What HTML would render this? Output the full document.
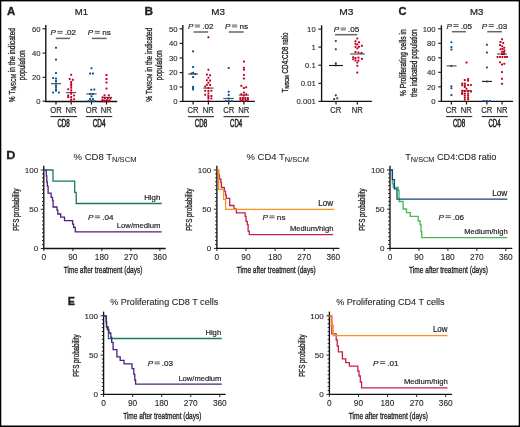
<!DOCTYPE html><html><head><meta charset="utf-8"><style>html,body{margin:0;padding:0;background:#fff;width:520px;height:427px;overflow:hidden}svg{display:block}text{font-family:"Liberation Sans",sans-serif}</style></head><body><svg width="520" height="427" viewBox="0 0 520 427" font-family="Liberation Sans, sans-serif">
<rect width="520" height="427" fill="#fff"/>
<g opacity="0.999">
<rect x="0" y="0" width="520" height="1.4" fill="#000"/>
<rect x="0" y="0" width="1.3" height="427" fill="#000"/>
<rect x="518.7" y="0" width="1.3" height="427" fill="#000"/>
<rect x="0" y="425.5" width="520" height="1.5" fill="#000"/>
<line x1="45.8" y1="24.9" x2="45.8" y2="102.1" stroke="#111" stroke-width="1.35"/>
<line x1="45.199999999999996" y1="101.5" x2="117.2" y2="101.5" stroke="#111" stroke-width="1.35"/>
<line x1="42.599999999999994" y1="28.8" x2="45.8" y2="28.8" stroke="#111" stroke-width="1.1"/>
<line x1="42.599999999999994" y1="53.1" x2="45.8" y2="53.1" stroke="#111" stroke-width="1.1"/>
<line x1="42.599999999999994" y1="77.3" x2="45.8" y2="77.3" stroke="#111" stroke-width="1.1"/>
<line x1="42.599999999999994" y1="101.2" x2="45.8" y2="101.2" stroke="#111" stroke-width="1.1"/>
<line x1="56" y1="101.5" x2="56" y2="104.5" stroke="#111" stroke-width="1.2"/>
<line x1="71.2" y1="101.5" x2="71.2" y2="104.5" stroke="#111" stroke-width="1.2"/>
<line x1="91.5" y1="101.5" x2="91.5" y2="104.5" stroke="#111" stroke-width="1.2"/>
<line x1="106.5" y1="101.5" x2="106.5" y2="104.5" stroke="#111" stroke-width="1.2"/>
<rect x="57.40" y="30.90" width="5.3" height="0.95" fill="#555"/>
<rect x="57.40" y="32.70" width="5.3" height="0.95" fill="#555"/>
<line x1="55.8" y1="38.4" x2="70.0" y2="38.4" stroke="#666" stroke-width="1.5"/>
<rect x="94.70" y="30.90" width="5.3" height="0.95" fill="#555"/>
<rect x="94.70" y="32.70" width="5.3" height="0.95" fill="#555"/>
<line x1="92.0" y1="38.4" x2="106.6" y2="38.4" stroke="#666" stroke-width="1.5"/>
<line x1="50.9" y1="83.7" x2="61.1" y2="83.7" stroke="#555555" stroke-width="1.2"/>
<line x1="66.1" y1="92.6" x2="76.2" y2="92.6" stroke="#555555" stroke-width="1.2"/>
<rect x="55.00" y="46.70" width="2.00" height="2.00" rx="0.60" fill="#0b4f8f"/>
<rect x="55.00" y="58.50" width="2.00" height="2.00" rx="0.60" fill="#0b4f8f"/>
<rect x="55.00" y="71.90" width="2.00" height="2.00" rx="0.60" fill="#0b4f8f"/>
<rect x="52.10" y="76.90" width="2.00" height="2.00" rx="0.60" fill="#0b4f8f"/>
<rect x="55.00" y="77.50" width="2.00" height="2.00" rx="0.60" fill="#0b4f8f"/>
<rect x="55.00" y="80.10" width="2.00" height="2.00" rx="0.60" fill="#0b4f8f"/>
<rect x="55.00" y="82.60" width="2.00" height="2.00" rx="0.60" fill="#0b4f8f"/>
<rect x="55.00" y="84.70" width="2.00" height="2.00" rx="0.60" fill="#0b4f8f"/>
<rect x="55.00" y="86.50" width="2.00" height="2.00" rx="0.60" fill="#0b4f8f"/>
<rect x="55.00" y="88.50" width="2.00" height="2.00" rx="0.60" fill="#0b4f8f"/>
<rect x="55.00" y="89.70" width="2.00" height="2.00" rx="0.60" fill="#0b4f8f"/>
<rect x="52.10" y="91.40" width="2.00" height="2.00" rx="0.60" fill="#0b4f8f"/>
<rect x="57.90" y="91.40" width="2.00" height="2.00" rx="0.60" fill="#0b4f8f"/>
<rect x="70.20" y="73.70" width="2.00" height="2.00" rx="0.60" fill="#bf0020"/>
<rect x="68.70" y="77.90" width="2.00" height="2.00" rx="0.60" fill="#bf0020"/>
<rect x="71.80" y="78.80" width="2.00" height="2.00" rx="0.60" fill="#bf0020"/>
<rect x="70.20" y="80.90" width="2.00" height="2.00" rx="0.60" fill="#bf0020"/>
<rect x="70.20" y="83.00" width="2.00" height="2.00" rx="0.60" fill="#bf0020"/>
<rect x="70.20" y="84.70" width="2.00" height="2.00" rx="0.60" fill="#bf0020"/>
<rect x="70.20" y="86.80" width="2.00" height="2.00" rx="0.60" fill="#bf0020"/>
<rect x="67.20" y="88.20" width="2.00" height="2.00" rx="0.60" fill="#bf0020"/>
<rect x="70.20" y="89.30" width="2.00" height="2.00" rx="0.60" fill="#bf0020"/>
<rect x="70.20" y="91.40" width="2.00" height="2.00" rx="0.60" fill="#bf0020"/>
<rect x="70.20" y="92.70" width="2.00" height="2.00" rx="0.60" fill="#bf0020"/>
<rect x="67.20" y="94.40" width="2.00" height="2.00" rx="0.60" fill="#bf0020"/>
<rect x="73.10" y="94.40" width="2.00" height="2.00" rx="0.60" fill="#bf0020"/>
<rect x="67.20" y="96.10" width="2.00" height="2.00" rx="0.60" fill="#bf0020"/>
<rect x="70.20" y="96.10" width="2.00" height="2.00" rx="0.60" fill="#bf0020"/>
<rect x="73.10" y="98.20" width="2.00" height="2.00" rx="0.60" fill="#bf0020"/>
<rect x="70.20" y="98.60" width="2.00" height="2.00" rx="0.60" fill="#bf0020"/>
<rect x="70.20" y="100.00" width="2.00" height="2.00" rx="0.60" fill="#bf0020"/>
<line x1="86.3" y1="93.9" x2="96.6" y2="93.9" stroke="#555555" stroke-width="1.2"/>
<line x1="101.9" y1="97.4" x2="112.0" y2="97.4" stroke="#555555" stroke-width="1.2"/>
<rect x="90.50" y="67.20" width="2.00" height="2.00" rx="0.60" fill="#0b4f8f"/>
<rect x="89.10" y="72.60" width="2.00" height="2.00" rx="0.60" fill="#0b4f8f"/>
<rect x="91.90" y="72.60" width="2.00" height="2.00" rx="0.60" fill="#0b4f8f"/>
<rect x="90.30" y="88.70" width="2.00" height="2.00" rx="0.60" fill="#0b4f8f"/>
<rect x="93.30" y="88.40" width="2.00" height="2.00" rx="0.60" fill="#0b4f8f"/>
<rect x="89.10" y="93.00" width="2.00" height="2.00" rx="0.60" fill="#0b4f8f"/>
<rect x="91.90" y="93.00" width="2.00" height="2.00" rx="0.60" fill="#0b4f8f"/>
<rect x="90.50" y="95.30" width="2.00" height="2.00" rx="0.60" fill="#0b4f8f"/>
<rect x="89.10" y="98.10" width="2.00" height="2.00" rx="0.60" fill="#0b4f8f"/>
<rect x="91.90" y="98.10" width="2.00" height="2.00" rx="0.60" fill="#0b4f8f"/>
<rect x="87.50" y="100.00" width="2.00" height="2.00" rx="0.60" fill="#0b4f8f"/>
<rect x="90.50" y="100.00" width="2.00" height="2.00" rx="0.60" fill="#0b4f8f"/>
<rect x="93.50" y="100.00" width="2.00" height="2.00" rx="0.60" fill="#0b4f8f"/>
<rect x="105.50" y="74.00" width="2.00" height="2.00" rx="0.60" fill="#bf0020"/>
<rect x="105.50" y="78.00" width="2.00" height="2.00" rx="0.60" fill="#bf0020"/>
<rect x="105.50" y="81.40" width="2.00" height="2.00" rx="0.60" fill="#bf0020"/>
<rect x="105.50" y="87.50" width="2.00" height="2.00" rx="0.60" fill="#bf0020"/>
<rect x="103.50" y="94.30" width="2.00" height="2.00" rx="0.60" fill="#bf0020"/>
<rect x="107.80" y="94.30" width="2.00" height="2.00" rx="0.60" fill="#bf0020"/>
<rect x="101.50" y="96.50" width="2.00" height="2.00" rx="0.60" fill="#bf0020"/>
<rect x="104.00" y="97.00" width="2.00" height="2.00" rx="0.60" fill="#bf0020"/>
<rect x="107.00" y="97.00" width="2.00" height="2.00" rx="0.60" fill="#bf0020"/>
<rect x="109.50" y="97.50" width="2.00" height="2.00" rx="0.60" fill="#bf0020"/>
<rect x="101.50" y="99.00" width="2.00" height="2.00" rx="0.60" fill="#bf0020"/>
<rect x="103.70" y="99.50" width="2.00" height="2.00" rx="0.60" fill="#bf0020"/>
<rect x="106.00" y="99.00" width="2.00" height="2.00" rx="0.60" fill="#bf0020"/>
<rect x="108.50" y="99.50" width="2.00" height="2.00" rx="0.60" fill="#bf0020"/>
<rect x="102.50" y="100.30" width="2.00" height="2.00" rx="0.60" fill="#bf0020"/>
<rect x="107.50" y="100.30" width="2.00" height="2.00" rx="0.60" fill="#bf0020"/>
<line x1="50.5" y1="116.55" x2="77.0" y2="116.55" stroke="#333" stroke-width="1.15"/>
<line x1="85.8" y1="116.55" x2="112.3" y2="116.55" stroke="#333" stroke-width="1.15"/>
<line x1="182.8" y1="25.0" x2="182.8" y2="102.0" stroke="#111" stroke-width="1.35"/>
<line x1="182.20000000000002" y1="101.4" x2="254.8" y2="101.4" stroke="#111" stroke-width="1.35"/>
<line x1="179.60000000000002" y1="28.8" x2="182.8" y2="28.8" stroke="#111" stroke-width="1.1"/>
<line x1="179.60000000000002" y1="43.4" x2="182.8" y2="43.4" stroke="#111" stroke-width="1.1"/>
<line x1="179.60000000000002" y1="58.0" x2="182.8" y2="58.0" stroke="#111" stroke-width="1.1"/>
<line x1="179.60000000000002" y1="72.6" x2="182.8" y2="72.6" stroke="#111" stroke-width="1.1"/>
<line x1="179.60000000000002" y1="87.0" x2="182.8" y2="87.0" stroke="#111" stroke-width="1.1"/>
<line x1="179.60000000000002" y1="101.4" x2="182.8" y2="101.4" stroke="#111" stroke-width="1.1"/>
<line x1="193.1" y1="101.4" x2="193.1" y2="104.5" stroke="#111" stroke-width="1.2"/>
<line x1="208.4" y1="101.4" x2="208.4" y2="104.5" stroke="#111" stroke-width="1.2"/>
<line x1="228.7" y1="101.4" x2="228.7" y2="104.5" stroke="#111" stroke-width="1.2"/>
<line x1="243.9" y1="101.4" x2="243.9" y2="104.5" stroke="#111" stroke-width="1.2"/>
<rect x="194.80" y="24.60" width="5.3" height="0.95" fill="#555"/>
<rect x="194.80" y="26.40" width="5.3" height="0.95" fill="#555"/>
<line x1="193.5" y1="32.0" x2="208.1" y2="32.0" stroke="#666" stroke-width="1.5"/>
<rect x="231.90" y="24.60" width="5.3" height="0.95" fill="#555"/>
<rect x="231.90" y="26.40" width="5.3" height="0.95" fill="#555"/>
<line x1="228.8" y1="32.0" x2="243.7" y2="32.0" stroke="#666" stroke-width="1.5"/>
<line x1="188.2" y1="74.0" x2="198.0" y2="74.0" stroke="#555555" stroke-width="1.2"/>
<line x1="203.2" y1="88.1" x2="213.6" y2="88.1" stroke="#555555" stroke-width="1.2"/>
<rect x="192.10" y="50.30" width="2.00" height="2.00" rx="0.60" fill="#0b4f8f"/>
<rect x="192.10" y="66.10" width="2.00" height="2.00" rx="0.60" fill="#0b4f8f"/>
<rect x="190.40" y="72.60" width="2.00" height="2.00" rx="0.60" fill="#0b4f8f"/>
<rect x="192.10" y="71.80" width="2.00" height="2.00" rx="0.60" fill="#0b4f8f"/>
<rect x="194.10" y="73.00" width="2.00" height="2.00" rx="0.60" fill="#0b4f8f"/>
<rect x="192.10" y="76.00" width="2.00" height="2.00" rx="0.60" fill="#0b4f8f"/>
<rect x="192.10" y="85.80" width="2.00" height="2.00" rx="0.60" fill="#0b4f8f"/>
<rect x="192.10" y="87.10" width="2.00" height="2.00" rx="0.60" fill="#0b4f8f"/>
<rect x="192.10" y="88.40" width="2.00" height="2.00" rx="0.60" fill="#0b4f8f"/>
<rect x="207.40" y="36.30" width="2.00" height="2.00" rx="0.60" fill="#bf0020"/>
<rect x="207.40" y="68.70" width="2.00" height="2.00" rx="0.60" fill="#bf0020"/>
<rect x="205.90" y="73.60" width="2.00" height="2.00" rx="0.60" fill="#bf0020"/>
<rect x="209.10" y="74.30" width="2.00" height="2.00" rx="0.60" fill="#bf0020"/>
<rect x="207.40" y="76.70" width="2.00" height="2.00" rx="0.60" fill="#bf0020"/>
<rect x="205.90" y="79.20" width="2.00" height="2.00" rx="0.60" fill="#bf0020"/>
<rect x="209.10" y="79.50" width="2.00" height="2.00" rx="0.60" fill="#bf0020"/>
<rect x="207.40" y="81.70" width="2.00" height="2.00" rx="0.60" fill="#bf0020"/>
<rect x="205.90" y="83.80" width="2.00" height="2.00" rx="0.60" fill="#bf0020"/>
<rect x="209.10" y="84.10" width="2.00" height="2.00" rx="0.60" fill="#bf0020"/>
<rect x="204.20" y="85.60" width="2.00" height="2.00" rx="0.60" fill="#bf0020"/>
<rect x="207.40" y="87.10" width="2.00" height="2.00" rx="0.60" fill="#bf0020"/>
<rect x="204.20" y="89.70" width="2.00" height="2.00" rx="0.60" fill="#bf0020"/>
<rect x="210.40" y="89.70" width="2.00" height="2.00" rx="0.60" fill="#bf0020"/>
<rect x="207.40" y="90.00" width="2.00" height="2.00" rx="0.60" fill="#bf0020"/>
<rect x="207.40" y="92.50" width="2.00" height="2.00" rx="0.60" fill="#bf0020"/>
<rect x="204.20" y="93.70" width="2.00" height="2.00" rx="0.60" fill="#bf0020"/>
<rect x="207.40" y="95.00" width="2.00" height="2.00" rx="0.60" fill="#bf0020"/>
<rect x="210.40" y="95.00" width="2.00" height="2.00" rx="0.60" fill="#bf0020"/>
<rect x="207.40" y="97.00" width="2.00" height="2.00" rx="0.60" fill="#bf0020"/>
<rect x="210.40" y="97.40" width="2.00" height="2.00" rx="0.60" fill="#bf0020"/>
<rect x="207.40" y="99.50" width="2.00" height="2.00" rx="0.60" fill="#bf0020"/>
<line x1="223.3" y1="98.5" x2="233.8" y2="98.5" stroke="#555555" stroke-width="1.2"/>
<line x1="238.9" y1="95.1" x2="249.0" y2="95.1" stroke="#555555" stroke-width="1.2"/>
<rect x="227.70" y="67.10" width="2.00" height="2.00" rx="0.60" fill="#0b4f8f"/>
<rect x="227.70" y="90.70" width="2.00" height="2.00" rx="0.60" fill="#0b4f8f"/>
<rect x="227.70" y="94.10" width="2.00" height="2.00" rx="0.60" fill="#0b4f8f"/>
<rect x="227.70" y="97.50" width="2.00" height="2.00" rx="0.60" fill="#0b4f8f"/>
<rect x="224.90" y="100.00" width="2.00" height="2.00" rx="0.60" fill="#0b4f8f"/>
<rect x="227.70" y="100.00" width="2.00" height="2.00" rx="0.60" fill="#0b4f8f"/>
<rect x="230.90" y="100.00" width="2.00" height="2.00" rx="0.60" fill="#0b4f8f"/>
<rect x="242.90" y="60.60" width="2.00" height="2.00" rx="0.60" fill="#bf0020"/>
<rect x="242.90" y="66.80" width="2.00" height="2.00" rx="0.60" fill="#bf0020"/>
<rect x="242.90" y="68.70" width="2.00" height="2.00" rx="0.60" fill="#bf0020"/>
<rect x="242.90" y="73.90" width="2.00" height="2.00" rx="0.60" fill="#bf0020"/>
<rect x="242.90" y="77.50" width="2.00" height="2.00" rx="0.60" fill="#bf0020"/>
<rect x="240.30" y="84.80" width="2.00" height="2.00" rx="0.60" fill="#bf0020"/>
<rect x="242.90" y="87.00" width="2.00" height="2.00" rx="0.60" fill="#bf0020"/>
<rect x="245.20" y="86.20" width="2.00" height="2.00" rx="0.60" fill="#bf0020"/>
<rect x="242.90" y="91.50" width="2.00" height="2.00" rx="0.60" fill="#bf0020"/>
<rect x="240.30" y="93.20" width="2.00" height="2.00" rx="0.60" fill="#bf0020"/>
<rect x="245.20" y="93.20" width="2.00" height="2.00" rx="0.60" fill="#bf0020"/>
<rect x="242.90" y="94.50" width="2.00" height="2.00" rx="0.60" fill="#bf0020"/>
<rect x="239.40" y="97.00" width="2.00" height="2.00" rx="0.60" fill="#bf0020"/>
<rect x="241.90" y="97.00" width="2.00" height="2.00" rx="0.60" fill="#bf0020"/>
<rect x="244.40" y="97.00" width="2.00" height="2.00" rx="0.60" fill="#bf0020"/>
<rect x="246.90" y="97.00" width="2.00" height="2.00" rx="0.60" fill="#bf0020"/>
<rect x="239.40" y="98.70" width="2.00" height="2.00" rx="0.60" fill="#bf0020"/>
<rect x="241.90" y="98.70" width="2.00" height="2.00" rx="0.60" fill="#bf0020"/>
<rect x="244.40" y="98.70" width="2.00" height="2.00" rx="0.60" fill="#bf0020"/>
<rect x="246.90" y="98.70" width="2.00" height="2.00" rx="0.60" fill="#bf0020"/>
<rect x="240.70" y="100.00" width="2.00" height="2.00" rx="0.60" fill="#bf0020"/>
<rect x="245.10" y="100.00" width="2.00" height="2.00" rx="0.60" fill="#bf0020"/>
<line x1="188.0" y1="116.65" x2="214.0" y2="116.65" stroke="#333" stroke-width="1.15"/>
<line x1="223.5" y1="116.65" x2="249.0" y2="116.65" stroke="#333" stroke-width="1.15"/>
<line x1="321.6" y1="25.3" x2="321.6" y2="102.0" stroke="#111" stroke-width="1.35"/>
<line x1="321.0" y1="101.4" x2="371.9" y2="101.4" stroke="#111" stroke-width="1.35"/>
<line x1="318.40000000000003" y1="29.1" x2="321.6" y2="29.1" stroke="#111" stroke-width="1.1"/>
<line x1="318.40000000000003" y1="47.1" x2="321.6" y2="47.1" stroke="#111" stroke-width="1.1"/>
<line x1="318.40000000000003" y1="65.2" x2="321.6" y2="65.2" stroke="#111" stroke-width="1.1"/>
<line x1="318.40000000000003" y1="83.3" x2="321.6" y2="83.3" stroke="#111" stroke-width="1.1"/>
<line x1="318.40000000000003" y1="101.4" x2="321.6" y2="101.4" stroke="#111" stroke-width="1.1"/>
<line x1="336.0" y1="101.4" x2="336.0" y2="104.5" stroke="#111" stroke-width="1.2"/>
<line x1="357.3" y1="101.4" x2="357.3" y2="104.5" stroke="#111" stroke-width="1.2"/>
<rect x="340.60" y="27.60" width="5.3" height="0.95" fill="#555"/>
<rect x="340.60" y="29.40" width="5.3" height="0.95" fill="#555"/>
<line x1="335.0" y1="34.7" x2="357.1" y2="34.7" stroke="#666" stroke-width="1.5"/>
<rect x="334.80" y="39.90" width="2.00" height="2.00" rx="0.60" fill="#0b4f8f"/>
<rect x="334.80" y="48.20" width="2.00" height="2.00" rx="0.60" fill="#0b4f8f"/>
<rect x="334.80" y="62.30" width="2.00" height="2.00" rx="0.60" fill="#0b4f8f"/>
<rect x="334.80" y="64.30" width="2.00" height="2.00" rx="0.60" fill="#0b4f8f"/>
<rect x="334.80" y="94.30" width="2.00" height="2.00" rx="0.60" fill="#0b4f8f"/>
<rect x="333.10" y="98.00" width="2.00" height="2.00" rx="0.60" fill="#0b4f8f"/>
<rect x="336.30" y="97.30" width="2.00" height="2.00" rx="0.60" fill="#0b4f8f"/>
<line x1="329.0" y1="65.5" x2="342.9" y2="65.5" stroke="#111" stroke-width="1.1"/>
<line x1="350.1" y1="54.0" x2="364.8" y2="54.0" stroke="#555555" stroke-width="1.2"/>
<rect x="356.30" y="37.40" width="2.00" height="2.00" rx="0.60" fill="#bf0020"/>
<rect x="354.50" y="40.30" width="2.00" height="2.00" rx="0.60" fill="#bf0020"/>
<rect x="358.00" y="41.30" width="2.00" height="2.00" rx="0.60" fill="#bf0020"/>
<rect x="354.50" y="42.80" width="2.00" height="2.00" rx="0.60" fill="#bf0020"/>
<rect x="356.30" y="43.50" width="2.00" height="2.00" rx="0.60" fill="#bf0020"/>
<rect x="360.90" y="44.80" width="2.00" height="2.00" rx="0.60" fill="#bf0020"/>
<rect x="354.50" y="45.70" width="2.00" height="2.00" rx="0.60" fill="#bf0020"/>
<rect x="358.00" y="45.70" width="2.00" height="2.00" rx="0.60" fill="#bf0020"/>
<rect x="356.30" y="47.30" width="2.00" height="2.00" rx="0.60" fill="#bf0020"/>
<rect x="354.50" y="51.00" width="2.00" height="2.00" rx="0.60" fill="#bf0020"/>
<rect x="357.50" y="51.50" width="2.00" height="2.00" rx="0.60" fill="#bf0020"/>
<rect x="360.50" y="52.00" width="2.00" height="2.00" rx="0.60" fill="#bf0020"/>
<rect x="352.20" y="56.20" width="2.00" height="2.00" rx="0.60" fill="#bf0020"/>
<rect x="354.50" y="57.00" width="2.00" height="2.00" rx="0.60" fill="#bf0020"/>
<rect x="357.50" y="56.50" width="2.00" height="2.00" rx="0.60" fill="#bf0020"/>
<rect x="361.00" y="57.80" width="2.00" height="2.00" rx="0.60" fill="#bf0020"/>
<rect x="352.20" y="58.20" width="2.00" height="2.00" rx="0.60" fill="#bf0020"/>
<rect x="354.50" y="59.50" width="2.00" height="2.00" rx="0.60" fill="#bf0020"/>
<rect x="357.50" y="59.50" width="2.00" height="2.00" rx="0.60" fill="#bf0020"/>
<rect x="356.30" y="61.50" width="2.00" height="2.00" rx="0.60" fill="#bf0020"/>
<rect x="356.30" y="64.70" width="2.00" height="2.00" rx="0.60" fill="#bf0020"/>
<rect x="356.30" y="71.50" width="2.00" height="2.00" rx="0.60" fill="#bf0020"/>
<line x1="441.4" y1="25.3" x2="441.4" y2="101.89999999999999" stroke="#111" stroke-width="1.35"/>
<line x1="440.79999999999995" y1="101.3" x2="513.0" y2="101.3" stroke="#111" stroke-width="1.35"/>
<line x1="438.2" y1="28.8" x2="441.4" y2="28.8" stroke="#111" stroke-width="1.1"/>
<line x1="438.2" y1="43.3" x2="441.4" y2="43.3" stroke="#111" stroke-width="1.1"/>
<line x1="438.2" y1="57.8" x2="441.4" y2="57.8" stroke="#111" stroke-width="1.1"/>
<line x1="438.2" y1="72.3" x2="441.4" y2="72.3" stroke="#111" stroke-width="1.1"/>
<line x1="438.2" y1="86.8" x2="441.4" y2="86.8" stroke="#111" stroke-width="1.1"/>
<line x1="438.2" y1="101.3" x2="441.4" y2="101.3" stroke="#111" stroke-width="1.1"/>
<line x1="451.4" y1="101.3" x2="451.4" y2="104.5" stroke="#111" stroke-width="1.2"/>
<line x1="466.5" y1="101.3" x2="466.5" y2="104.5" stroke="#111" stroke-width="1.2"/>
<line x1="486.9" y1="101.3" x2="486.9" y2="104.5" stroke="#111" stroke-width="1.2"/>
<line x1="502.1" y1="101.3" x2="502.1" y2="104.5" stroke="#111" stroke-width="1.2"/>
<rect x="453.30" y="24.20" width="5.3" height="0.95" fill="#555"/>
<rect x="453.30" y="26.00" width="5.3" height="0.95" fill="#555"/>
<line x1="451.9" y1="31.7" x2="465.9" y2="31.7" stroke="#666" stroke-width="1.5"/>
<rect x="488.60" y="24.20" width="5.3" height="0.95" fill="#555"/>
<rect x="488.60" y="26.00" width="5.3" height="0.95" fill="#555"/>
<line x1="487.2" y1="31.7" x2="501.9" y2="31.7" stroke="#666" stroke-width="1.5"/>
<line x1="446.7" y1="65.9" x2="456.5" y2="65.9" stroke="#555555" stroke-width="1.2"/>
<line x1="462.0" y1="90.8" x2="471.8" y2="90.8" stroke="#555555" stroke-width="1.2"/>
<rect x="450.40" y="41.20" width="2.00" height="2.00" rx="0.60" fill="#0b4f8f"/>
<rect x="450.40" y="45.90" width="2.00" height="2.00" rx="0.60" fill="#0b4f8f"/>
<rect x="450.40" y="48.60" width="2.00" height="2.00" rx="0.60" fill="#0b4f8f"/>
<rect x="450.40" y="64.90" width="2.00" height="2.00" rx="0.60" fill="#0b4f8f"/>
<rect x="450.40" y="85.20" width="2.00" height="2.00" rx="0.60" fill="#0b4f8f"/>
<rect x="450.40" y="87.20" width="2.00" height="2.00" rx="0.60" fill="#0b4f8f"/>
<rect x="450.40" y="94.10" width="2.00" height="2.00" rx="0.60" fill="#0b4f8f"/>
<rect x="465.50" y="61.50" width="2.00" height="2.00" rx="0.60" fill="#bf0020"/>
<rect x="463.80" y="79.00" width="2.00" height="2.00" rx="0.60" fill="#bf0020"/>
<rect x="467.10" y="77.90" width="2.00" height="2.00" rx="0.60" fill="#bf0020"/>
<rect x="467.10" y="79.70" width="2.00" height="2.00" rx="0.60" fill="#bf0020"/>
<rect x="461.20" y="82.50" width="2.00" height="2.00" rx="0.60" fill="#bf0020"/>
<rect x="461.20" y="84.20" width="2.00" height="2.00" rx="0.60" fill="#bf0020"/>
<rect x="463.80" y="82.50" width="2.00" height="2.00" rx="0.60" fill="#bf0020"/>
<rect x="463.80" y="84.20" width="2.00" height="2.00" rx="0.60" fill="#bf0020"/>
<rect x="463.80" y="86.00" width="2.00" height="2.00" rx="0.60" fill="#bf0020"/>
<rect x="467.10" y="83.90" width="2.00" height="2.00" rx="0.60" fill="#bf0020"/>
<rect x="469.90" y="83.90" width="2.00" height="2.00" rx="0.60" fill="#bf0020"/>
<rect x="465.50" y="87.70" width="2.00" height="2.00" rx="0.60" fill="#bf0020"/>
<rect x="461.20" y="89.80" width="2.00" height="2.00" rx="0.60" fill="#bf0020"/>
<rect x="461.20" y="91.50" width="2.00" height="2.00" rx="0.60" fill="#bf0020"/>
<rect x="461.20" y="93.00" width="2.00" height="2.00" rx="0.60" fill="#bf0020"/>
<rect x="463.80" y="90.00" width="2.00" height="2.00" rx="0.60" fill="#bf0020"/>
<rect x="467.10" y="90.00" width="2.00" height="2.00" rx="0.60" fill="#bf0020"/>
<rect x="469.90" y="90.50" width="2.00" height="2.00" rx="0.60" fill="#bf0020"/>
<rect x="463.80" y="92.50" width="2.00" height="2.00" rx="0.60" fill="#bf0020"/>
<rect x="463.80" y="94.50" width="2.00" height="2.00" rx="0.60" fill="#bf0020"/>
<rect x="463.80" y="96.50" width="2.00" height="2.00" rx="0.60" fill="#bf0020"/>
<rect x="463.80" y="98.50" width="2.00" height="2.00" rx="0.60" fill="#bf0020"/>
<rect x="467.10" y="92.50" width="2.00" height="2.00" rx="0.60" fill="#bf0020"/>
<rect x="467.10" y="94.50" width="2.00" height="2.00" rx="0.60" fill="#bf0020"/>
<rect x="467.10" y="96.50" width="2.00" height="2.00" rx="0.60" fill="#bf0020"/>
<rect x="467.10" y="98.30" width="2.00" height="2.00" rx="0.60" fill="#bf0020"/>
<line x1="482.0" y1="81.4" x2="491.9" y2="81.4" stroke="#111" stroke-width="1.1"/>
<line x1="497.0" y1="54.0" x2="507.1" y2="54.0" stroke="#555555" stroke-width="1.2"/>
<rect x="485.90" y="43.80" width="2.00" height="2.00" rx="0.60" fill="#0b4f8f"/>
<rect x="485.90" y="51.60" width="2.00" height="2.00" rx="0.60" fill="#0b4f8f"/>
<rect x="485.90" y="66.40" width="2.00" height="2.00" rx="0.60" fill="#0b4f8f"/>
<rect x="485.90" y="80.40" width="2.00" height="2.00" rx="0.60" fill="#0b4f8f"/>
<rect x="482.70" y="100.00" width="2.00" height="2.00" rx="0.60" fill="#0b4f8f"/>
<rect x="485.90" y="100.00" width="2.00" height="2.00" rx="0.60" fill="#0b4f8f"/>
<rect x="489.00" y="100.00" width="2.00" height="2.00" rx="0.60" fill="#0b4f8f"/>
<rect x="501.00" y="38.20" width="2.00" height="2.00" rx="0.60" fill="#bf0020"/>
<rect x="499.50" y="41.00" width="2.00" height="2.00" rx="0.60" fill="#bf0020"/>
<rect x="502.20" y="41.90" width="2.00" height="2.00" rx="0.60" fill="#bf0020"/>
<rect x="499.00" y="44.00" width="2.00" height="2.00" rx="0.60" fill="#bf0020"/>
<rect x="501.20" y="45.20" width="2.00" height="2.00" rx="0.60" fill="#bf0020"/>
<rect x="503.30" y="46.70" width="2.00" height="2.00" rx="0.60" fill="#bf0020"/>
<rect x="499.50" y="48.20" width="2.00" height="2.00" rx="0.60" fill="#bf0020"/>
<rect x="501.50" y="48.00" width="2.00" height="2.00" rx="0.60" fill="#bf0020"/>
<rect x="503.50" y="49.50" width="2.00" height="2.00" rx="0.60" fill="#bf0020"/>
<rect x="501.00" y="50.70" width="2.00" height="2.00" rx="0.60" fill="#bf0020"/>
<rect x="503.00" y="51.00" width="2.00" height="2.00" rx="0.60" fill="#bf0020"/>
<rect x="501.00" y="53.00" width="2.00" height="2.00" rx="0.60" fill="#bf0020"/>
<rect x="503.00" y="53.00" width="2.00" height="2.00" rx="0.60" fill="#bf0020"/>
<rect x="496.50" y="55.90" width="2.00" height="2.00" rx="0.60" fill="#bf0020"/>
<rect x="499.00" y="55.90" width="2.00" height="2.00" rx="0.60" fill="#bf0020"/>
<rect x="501.50" y="55.90" width="2.00" height="2.00" rx="0.60" fill="#bf0020"/>
<rect x="504.00" y="55.90" width="2.00" height="2.00" rx="0.60" fill="#bf0020"/>
<rect x="506.00" y="55.90" width="2.00" height="2.00" rx="0.60" fill="#bf0020"/>
<rect x="499.00" y="61.20" width="2.00" height="2.00" rx="0.60" fill="#bf0020"/>
<rect x="501.00" y="63.50" width="2.00" height="2.00" rx="0.60" fill="#bf0020"/>
<rect x="503.30" y="62.70" width="2.00" height="2.00" rx="0.60" fill="#bf0020"/>
<rect x="501.00" y="71.00" width="2.00" height="2.00" rx="0.60" fill="#bf0020"/>
<rect x="501.00" y="77.80" width="2.00" height="2.00" rx="0.60" fill="#bf0020"/>
<rect x="501.00" y="82.80" width="2.00" height="2.00" rx="0.60" fill="#bf0020"/>
<line x1="446.1" y1="116.55" x2="472.3" y2="116.55" stroke="#333" stroke-width="1.15"/>
<line x1="481.6" y1="116.55" x2="507.7" y2="116.55" stroke="#333" stroke-width="1.15"/>
<line x1="43.8" y1="165.8" x2="43.8" y2="249.1" stroke="#111" stroke-width="1.35"/>
<line x1="43.199999999999996" y1="248.5" x2="165.7" y2="248.5" stroke="#111" stroke-width="1.35"/>
<line x1="40.8" y1="170.0" x2="43.8" y2="170.0" stroke="#111" stroke-width="0.9"/>
<line x1="42.0" y1="173.925" x2="43.8" y2="173.925" stroke="#111" stroke-width="0.9"/>
<line x1="42.0" y1="177.85" x2="43.8" y2="177.85" stroke="#111" stroke-width="0.9"/>
<line x1="42.0" y1="181.775" x2="43.8" y2="181.775" stroke="#111" stroke-width="0.9"/>
<line x1="42.0" y1="185.7" x2="43.8" y2="185.7" stroke="#111" stroke-width="0.9"/>
<line x1="42.0" y1="189.625" x2="43.8" y2="189.625" stroke="#111" stroke-width="0.9"/>
<line x1="42.0" y1="193.55" x2="43.8" y2="193.55" stroke="#111" stroke-width="0.9"/>
<line x1="42.0" y1="197.475" x2="43.8" y2="197.475" stroke="#111" stroke-width="0.9"/>
<line x1="42.0" y1="201.4" x2="43.8" y2="201.4" stroke="#111" stroke-width="0.9"/>
<line x1="42.0" y1="205.325" x2="43.8" y2="205.325" stroke="#111" stroke-width="0.9"/>
<line x1="40.8" y1="209.25" x2="43.8" y2="209.25" stroke="#111" stroke-width="0.9"/>
<line x1="42.0" y1="213.175" x2="43.8" y2="213.175" stroke="#111" stroke-width="0.9"/>
<line x1="42.0" y1="217.1" x2="43.8" y2="217.1" stroke="#111" stroke-width="0.9"/>
<line x1="42.0" y1="221.025" x2="43.8" y2="221.025" stroke="#111" stroke-width="0.9"/>
<line x1="42.0" y1="224.95" x2="43.8" y2="224.95" stroke="#111" stroke-width="0.9"/>
<line x1="42.0" y1="228.875" x2="43.8" y2="228.875" stroke="#111" stroke-width="0.9"/>
<line x1="42.0" y1="232.8" x2="43.8" y2="232.8" stroke="#111" stroke-width="0.9"/>
<line x1="42.0" y1="236.725" x2="43.8" y2="236.725" stroke="#111" stroke-width="0.9"/>
<line x1="42.0" y1="240.65" x2="43.8" y2="240.65" stroke="#111" stroke-width="0.9"/>
<line x1="42.0" y1="244.575" x2="43.8" y2="244.575" stroke="#111" stroke-width="0.9"/>
<line x1="40.8" y1="248.5" x2="43.8" y2="248.5" stroke="#111" stroke-width="0.9"/>
<line x1="43.8" y1="248.5" x2="43.8" y2="251.1" stroke="#111" stroke-width="0.9"/>
<line x1="72.825" y1="248.5" x2="72.825" y2="251.1" stroke="#111" stroke-width="0.9"/>
<line x1="101.85" y1="248.5" x2="101.85" y2="251.1" stroke="#111" stroke-width="0.9"/>
<line x1="130.875" y1="248.5" x2="130.875" y2="251.1" stroke="#111" stroke-width="0.9"/>
<line x1="159.9" y1="248.5" x2="159.9" y2="251.1" stroke="#111" stroke-width="0.9"/>
<path d="M43.8,170 H46.3 V176 H46.8 V182 H47.3 V186.2 H48.1 V193.2 H51.1 V197.3 H52.5 V200.4 H53.1 V207 H57 V210.1 H57.8 V214 H60.7 V217.2 H64.5 V220.7 H72.6 V224.2 H73.6 V227.3 H75.3 V231.8 H161.7" fill="none" stroke="#4f1e7d" stroke-width="1.3" stroke-linejoin="miter" stroke-linecap="butt"/>
<path d="M43.8,170 H53 V181.1 H74.7 V192.3 H76.2 V203.5 H161.7" fill="none" stroke="#177a5e" stroke-width="1.3" stroke-linejoin="miter" stroke-linecap="butt"/>
<rect x="94.80" y="215.50" width="5.3" height="0.95" fill="#555"/>
<rect x="94.80" y="217.30" width="5.3" height="0.95" fill="#555"/>
<line x1="216.9" y1="165.8" x2="216.9" y2="249.0" stroke="#111" stroke-width="1.35"/>
<line x1="216.3" y1="248.4" x2="339.4" y2="248.4" stroke="#111" stroke-width="1.35"/>
<line x1="213.9" y1="170.0" x2="216.9" y2="170.0" stroke="#111" stroke-width="0.9"/>
<line x1="215.1" y1="173.92" x2="216.9" y2="173.92" stroke="#111" stroke-width="0.9"/>
<line x1="215.1" y1="177.84" x2="216.9" y2="177.84" stroke="#111" stroke-width="0.9"/>
<line x1="215.1" y1="181.76" x2="216.9" y2="181.76" stroke="#111" stroke-width="0.9"/>
<line x1="215.1" y1="185.68" x2="216.9" y2="185.68" stroke="#111" stroke-width="0.9"/>
<line x1="215.1" y1="189.6" x2="216.9" y2="189.6" stroke="#111" stroke-width="0.9"/>
<line x1="215.1" y1="193.52" x2="216.9" y2="193.52" stroke="#111" stroke-width="0.9"/>
<line x1="215.1" y1="197.44" x2="216.9" y2="197.44" stroke="#111" stroke-width="0.9"/>
<line x1="215.1" y1="201.36" x2="216.9" y2="201.36" stroke="#111" stroke-width="0.9"/>
<line x1="215.1" y1="205.28" x2="216.9" y2="205.28" stroke="#111" stroke-width="0.9"/>
<line x1="213.9" y1="209.2" x2="216.9" y2="209.2" stroke="#111" stroke-width="0.9"/>
<line x1="215.1" y1="213.12" x2="216.9" y2="213.12" stroke="#111" stroke-width="0.9"/>
<line x1="215.1" y1="217.04000000000002" x2="216.9" y2="217.04000000000002" stroke="#111" stroke-width="0.9"/>
<line x1="215.1" y1="220.96" x2="216.9" y2="220.96" stroke="#111" stroke-width="0.9"/>
<line x1="215.1" y1="224.88" x2="216.9" y2="224.88" stroke="#111" stroke-width="0.9"/>
<line x1="215.1" y1="228.8" x2="216.9" y2="228.8" stroke="#111" stroke-width="0.9"/>
<line x1="215.1" y1="232.72" x2="216.9" y2="232.72" stroke="#111" stroke-width="0.9"/>
<line x1="215.1" y1="236.64000000000001" x2="216.9" y2="236.64000000000001" stroke="#111" stroke-width="0.9"/>
<line x1="215.1" y1="240.56" x2="216.9" y2="240.56" stroke="#111" stroke-width="0.9"/>
<line x1="215.1" y1="244.48000000000002" x2="216.9" y2="244.48000000000002" stroke="#111" stroke-width="0.9"/>
<line x1="213.9" y1="248.4" x2="216.9" y2="248.4" stroke="#111" stroke-width="0.9"/>
<line x1="216.9" y1="248.4" x2="216.9" y2="251.0" stroke="#111" stroke-width="0.9"/>
<line x1="246.0" y1="248.4" x2="246.0" y2="251.0" stroke="#111" stroke-width="0.9"/>
<line x1="275.1" y1="248.4" x2="275.1" y2="251.0" stroke="#111" stroke-width="0.9"/>
<line x1="304.20000000000005" y1="248.4" x2="304.20000000000005" y2="251.0" stroke="#111" stroke-width="0.9"/>
<line x1="333.3" y1="248.4" x2="333.3" y2="251.0" stroke="#111" stroke-width="0.9"/>
<path d="M216.9,170 H218.5 V175 H219.5 V179 H220.8 V182.3 H221.4 V187.5 H224.4 V191.2 H225.5 V195 H226.2 V198.4 H229.7 V205.5 H234 V209 H236.3 V212.8 H245.2 V216.5 H246 V221.4 H247.3 V224.7 H248.1 V231.2 H249.3 V234.6 H333.1" fill="none" stroke="#c72047" stroke-width="1.3" stroke-linejoin="miter" stroke-linecap="butt"/>
<path d="M216.9,170 H218.7 V189.4 H223.6 V199.3 H225.6 V209.3 H334.3" fill="none" stroke="#f8921c" stroke-width="1.3" stroke-linejoin="miter" stroke-linecap="butt"/>
<rect x="269.30" y="215.50" width="5.3" height="0.95" fill="#555"/>
<rect x="269.30" y="217.30" width="5.3" height="0.95" fill="#555"/>
<line x1="390.0" y1="165.8" x2="390.0" y2="249.0" stroke="#111" stroke-width="1.35"/>
<line x1="389.4" y1="248.4" x2="512.3" y2="248.4" stroke="#111" stroke-width="1.35"/>
<line x1="387.0" y1="170.0" x2="390.0" y2="170.0" stroke="#111" stroke-width="0.9"/>
<line x1="388.2" y1="173.92" x2="390.0" y2="173.92" stroke="#111" stroke-width="0.9"/>
<line x1="388.2" y1="177.84" x2="390.0" y2="177.84" stroke="#111" stroke-width="0.9"/>
<line x1="388.2" y1="181.76" x2="390.0" y2="181.76" stroke="#111" stroke-width="0.9"/>
<line x1="388.2" y1="185.68" x2="390.0" y2="185.68" stroke="#111" stroke-width="0.9"/>
<line x1="388.2" y1="189.6" x2="390.0" y2="189.6" stroke="#111" stroke-width="0.9"/>
<line x1="388.2" y1="193.52" x2="390.0" y2="193.52" stroke="#111" stroke-width="0.9"/>
<line x1="388.2" y1="197.44" x2="390.0" y2="197.44" stroke="#111" stroke-width="0.9"/>
<line x1="388.2" y1="201.36" x2="390.0" y2="201.36" stroke="#111" stroke-width="0.9"/>
<line x1="388.2" y1="205.28" x2="390.0" y2="205.28" stroke="#111" stroke-width="0.9"/>
<line x1="387.0" y1="209.2" x2="390.0" y2="209.2" stroke="#111" stroke-width="0.9"/>
<line x1="388.2" y1="213.12" x2="390.0" y2="213.12" stroke="#111" stroke-width="0.9"/>
<line x1="388.2" y1="217.04000000000002" x2="390.0" y2="217.04000000000002" stroke="#111" stroke-width="0.9"/>
<line x1="388.2" y1="220.96" x2="390.0" y2="220.96" stroke="#111" stroke-width="0.9"/>
<line x1="388.2" y1="224.88" x2="390.0" y2="224.88" stroke="#111" stroke-width="0.9"/>
<line x1="388.2" y1="228.8" x2="390.0" y2="228.8" stroke="#111" stroke-width="0.9"/>
<line x1="388.2" y1="232.72" x2="390.0" y2="232.72" stroke="#111" stroke-width="0.9"/>
<line x1="388.2" y1="236.64000000000001" x2="390.0" y2="236.64000000000001" stroke="#111" stroke-width="0.9"/>
<line x1="388.2" y1="240.56" x2="390.0" y2="240.56" stroke="#111" stroke-width="0.9"/>
<line x1="388.2" y1="244.48000000000002" x2="390.0" y2="244.48000000000002" stroke="#111" stroke-width="0.9"/>
<line x1="387.0" y1="248.4" x2="390.0" y2="248.4" stroke="#111" stroke-width="0.9"/>
<line x1="390.0" y1="248.4" x2="390.0" y2="251.0" stroke="#111" stroke-width="0.9"/>
<line x1="418.95" y1="248.4" x2="418.95" y2="251.0" stroke="#111" stroke-width="0.9"/>
<line x1="447.9" y1="248.4" x2="447.9" y2="251.0" stroke="#111" stroke-width="0.9"/>
<line x1="476.85" y1="248.4" x2="476.85" y2="251.0" stroke="#111" stroke-width="0.9"/>
<line x1="505.8" y1="248.4" x2="505.8" y2="251.0" stroke="#111" stroke-width="0.9"/>
<path d="M390,170 H392.4 V183.8 H393.3 V187.3 H398.3 V190.3 H399.1 V201.5 H403.1 V209 H406.5 V212.6 H410.2 V216.3 H418.2 V221 H420 V224.5 H421 V231.5 H421.7 V237.6 H507.3" fill="none" stroke="#47b75a" stroke-width="1.3" stroke-linejoin="miter" stroke-linecap="butt"/>
<path d="M390,170 H392.4 V179.6 H394.4 V188.9 H397 V199.1 H507.3" fill="none" stroke="#0b4683" stroke-width="1.3" stroke-linejoin="miter" stroke-linecap="butt"/>
<rect x="445.40" y="215.30" width="5.3" height="0.95" fill="#555"/>
<rect x="445.40" y="217.10" width="5.3" height="0.95" fill="#555"/>
<line x1="103.6" y1="311.6" x2="103.6" y2="395.0" stroke="#111" stroke-width="1.35"/>
<line x1="103.0" y1="394.4" x2="225.6" y2="394.4" stroke="#111" stroke-width="1.35"/>
<line x1="100.6" y1="315.8" x2="103.6" y2="315.8" stroke="#111" stroke-width="0.9"/>
<line x1="101.8" y1="319.73" x2="103.6" y2="319.73" stroke="#111" stroke-width="0.9"/>
<line x1="101.8" y1="323.66" x2="103.6" y2="323.66" stroke="#111" stroke-width="0.9"/>
<line x1="101.8" y1="327.59000000000003" x2="103.6" y2="327.59000000000003" stroke="#111" stroke-width="0.9"/>
<line x1="101.8" y1="331.52" x2="103.6" y2="331.52" stroke="#111" stroke-width="0.9"/>
<line x1="101.8" y1="335.45" x2="103.6" y2="335.45" stroke="#111" stroke-width="0.9"/>
<line x1="101.8" y1="339.38" x2="103.6" y2="339.38" stroke="#111" stroke-width="0.9"/>
<line x1="101.8" y1="343.31" x2="103.6" y2="343.31" stroke="#111" stroke-width="0.9"/>
<line x1="101.8" y1="347.24" x2="103.6" y2="347.24" stroke="#111" stroke-width="0.9"/>
<line x1="101.8" y1="351.17" x2="103.6" y2="351.17" stroke="#111" stroke-width="0.9"/>
<line x1="100.6" y1="355.1" x2="103.6" y2="355.1" stroke="#111" stroke-width="0.9"/>
<line x1="101.8" y1="359.03" x2="103.6" y2="359.03" stroke="#111" stroke-width="0.9"/>
<line x1="101.8" y1="362.96" x2="103.6" y2="362.96" stroke="#111" stroke-width="0.9"/>
<line x1="101.8" y1="366.89" x2="103.6" y2="366.89" stroke="#111" stroke-width="0.9"/>
<line x1="101.8" y1="370.82" x2="103.6" y2="370.82" stroke="#111" stroke-width="0.9"/>
<line x1="101.8" y1="374.75" x2="103.6" y2="374.75" stroke="#111" stroke-width="0.9"/>
<line x1="101.8" y1="378.68" x2="103.6" y2="378.68" stroke="#111" stroke-width="0.9"/>
<line x1="101.8" y1="382.61" x2="103.6" y2="382.61" stroke="#111" stroke-width="0.9"/>
<line x1="101.8" y1="386.53999999999996" x2="103.6" y2="386.53999999999996" stroke="#111" stroke-width="0.9"/>
<line x1="101.8" y1="390.46999999999997" x2="103.6" y2="390.46999999999997" stroke="#111" stroke-width="0.9"/>
<line x1="100.6" y1="394.4" x2="103.6" y2="394.4" stroke="#111" stroke-width="0.9"/>
<line x1="103.6" y1="394.4" x2="103.6" y2="397.0" stroke="#111" stroke-width="0.9"/>
<line x1="132.65" y1="394.4" x2="132.65" y2="397.0" stroke="#111" stroke-width="0.9"/>
<line x1="161.7" y1="394.4" x2="161.7" y2="397.0" stroke="#111" stroke-width="0.9"/>
<line x1="190.75" y1="394.4" x2="190.75" y2="397.0" stroke="#111" stroke-width="0.9"/>
<line x1="219.8" y1="394.4" x2="219.8" y2="397.0" stroke="#111" stroke-width="0.9"/>
<path d="M103.6,315.8 H106.4 V326.9 H108.4 V338.5 H221.7" fill="none" stroke="#177a5e" stroke-width="1.3" stroke-linejoin="miter" stroke-linecap="butt"/>
<path d="M103.6,315.8 H106.1 V322 H106.6 V326.9 H107.3 V329.7 H108.9 V333 H110.8 V337.2 H111.7 V342.3 H113.1 V349.7 H116.9 V356.8 H120.2 V360.3 H124 V363.8 H132 V368.7 H133.8 V374.3 H134.8 V380 H135.6 V384.2 H221.7" fill="none" stroke="#4f1e7d" stroke-width="1.3" stroke-linejoin="miter" stroke-linecap="butt"/>
<rect x="154.50" y="361.50" width="5.3" height="0.95" fill="#555"/>
<rect x="154.50" y="363.30" width="5.3" height="0.95" fill="#555"/>
<line x1="329.4" y1="311.6" x2="329.4" y2="395.0" stroke="#111" stroke-width="1.35"/>
<line x1="328.79999999999995" y1="394.4" x2="452.0" y2="394.4" stroke="#111" stroke-width="1.35"/>
<line x1="326.4" y1="315.8" x2="329.4" y2="315.8" stroke="#111" stroke-width="0.9"/>
<line x1="327.59999999999997" y1="319.73" x2="329.4" y2="319.73" stroke="#111" stroke-width="0.9"/>
<line x1="327.59999999999997" y1="323.66" x2="329.4" y2="323.66" stroke="#111" stroke-width="0.9"/>
<line x1="327.59999999999997" y1="327.59000000000003" x2="329.4" y2="327.59000000000003" stroke="#111" stroke-width="0.9"/>
<line x1="327.59999999999997" y1="331.52" x2="329.4" y2="331.52" stroke="#111" stroke-width="0.9"/>
<line x1="327.59999999999997" y1="335.45" x2="329.4" y2="335.45" stroke="#111" stroke-width="0.9"/>
<line x1="327.59999999999997" y1="339.38" x2="329.4" y2="339.38" stroke="#111" stroke-width="0.9"/>
<line x1="327.59999999999997" y1="343.31" x2="329.4" y2="343.31" stroke="#111" stroke-width="0.9"/>
<line x1="327.59999999999997" y1="347.24" x2="329.4" y2="347.24" stroke="#111" stroke-width="0.9"/>
<line x1="327.59999999999997" y1="351.17" x2="329.4" y2="351.17" stroke="#111" stroke-width="0.9"/>
<line x1="326.4" y1="355.1" x2="329.4" y2="355.1" stroke="#111" stroke-width="0.9"/>
<line x1="327.59999999999997" y1="359.03" x2="329.4" y2="359.03" stroke="#111" stroke-width="0.9"/>
<line x1="327.59999999999997" y1="362.96" x2="329.4" y2="362.96" stroke="#111" stroke-width="0.9"/>
<line x1="327.59999999999997" y1="366.89" x2="329.4" y2="366.89" stroke="#111" stroke-width="0.9"/>
<line x1="327.59999999999997" y1="370.82" x2="329.4" y2="370.82" stroke="#111" stroke-width="0.9"/>
<line x1="327.59999999999997" y1="374.75" x2="329.4" y2="374.75" stroke="#111" stroke-width="0.9"/>
<line x1="327.59999999999997" y1="378.68" x2="329.4" y2="378.68" stroke="#111" stroke-width="0.9"/>
<line x1="327.59999999999997" y1="382.61" x2="329.4" y2="382.61" stroke="#111" stroke-width="0.9"/>
<line x1="327.59999999999997" y1="386.53999999999996" x2="329.4" y2="386.53999999999996" stroke="#111" stroke-width="0.9"/>
<line x1="327.59999999999997" y1="390.46999999999997" x2="329.4" y2="390.46999999999997" stroke="#111" stroke-width="0.9"/>
<line x1="326.4" y1="394.4" x2="329.4" y2="394.4" stroke="#111" stroke-width="0.9"/>
<line x1="329.4" y1="394.4" x2="329.4" y2="397.0" stroke="#111" stroke-width="0.9"/>
<line x1="358.47499999999997" y1="394.4" x2="358.47499999999997" y2="397.0" stroke="#111" stroke-width="0.9"/>
<line x1="387.54999999999995" y1="394.4" x2="387.54999999999995" y2="397.0" stroke="#111" stroke-width="0.9"/>
<line x1="416.625" y1="394.4" x2="416.625" y2="397.0" stroke="#111" stroke-width="0.9"/>
<line x1="445.7" y1="394.4" x2="445.7" y2="397.0" stroke="#111" stroke-width="0.9"/>
<path d="M329.4,315.8 H331.8 V333.9 H336.2 V340 H337.2 V346 H338.4 V351.8 H342.4 V358.8 H345.7 V362.6 H349.4 V366.2 H357.8 V371 H359 V376 H360.3 V382 H361.6 V387.8 H447.5" fill="none" stroke="#c72047" stroke-width="1.3" stroke-linejoin="miter" stroke-linecap="butt"/>
<path d="M329.4,315.8 H331.2 V325 H333.2 V335.7 H447.5" fill="none" stroke="#f8921c" stroke-width="1.3" stroke-linejoin="miter" stroke-linecap="butt"/>
<rect x="379.90" y="361.20" width="5.3" height="0.95" fill="#555"/>
<rect x="379.90" y="363.00" width="5.3" height="0.95" fill="#555"/>
</g>
<g style="filter:grayscale(1)"><text transform="translate(7.40,14.80) scale(1.0095,1) translate(-0.283,0)" fill="#231f20" stroke="#231f20" stroke-width="0.346" vector-effect="non-scaling-stroke" ><tspan font-size="11.300" font-weight="bold">A</tspan></text><text transform="translate(145.30,14.70) scale(1.0504,1) translate(-0.735,0)" fill="#231f20" stroke="#231f20" stroke-width="0.327" vector-effect="non-scaling-stroke" ><tspan font-size="11.300" font-weight="bold">B</tspan></text><text transform="translate(398.90,14.70) scale(0.9863,1) translate(-0.452,0)" fill="#231f20" stroke="#231f20" stroke-width="0.356" vector-effect="non-scaling-stroke" ><tspan font-size="11.300" font-weight="bold">C</tspan></text><text transform="translate(7.00,159.40) scale(1.1276,1) translate(-0.735,0)" fill="#231f20" stroke="#231f20" stroke-width="0.293" vector-effect="non-scaling-stroke" ><tspan font-size="11.300" font-weight="bold">D</tspan></text><text transform="translate(68.40,305.20) scale(0.9554,1) translate(-0.735,0)" fill="#231f20" stroke="#231f20" stroke-width="0.370" vector-effect="non-scaling-stroke" ><tspan font-size="11.300" font-weight="bold">E</tspan></text><text transform="translate(75.60,14.80) scale(1.0628,1) translate(-0.720,0)" fill="#231f20" stroke="#231f20" stroke-width="0.220" vector-effect="non-scaling-stroke" ><tspan font-size="9.000">M1</tspan></text><text transform="translate(212.10,14.80) scale(1.0936,1) translate(-0.720,0)" fill="#231f20" stroke="#231f20" stroke-width="0.220" vector-effect="non-scaling-stroke" ><tspan font-size="9.000">M3</tspan></text><text transform="translate(340.00,14.80) scale(1.1286,1) translate(-0.720,0)" fill="#231f20" stroke="#231f20" stroke-width="0.220" vector-effect="non-scaling-stroke" ><tspan font-size="9.000">M3</tspan></text><text transform="translate(470.70,14.80) scale(1.0674,1) translate(-0.720,0)" fill="#231f20" stroke="#231f20" stroke-width="0.220" vector-effect="non-scaling-stroke" ><tspan font-size="9.000">M3</tspan></text><text transform="translate(32.41,31.55) scale(1.0000,1) translate(-0.385,0)" fill="#231f20" stroke="#231f20" stroke-width="0.100" vector-effect="non-scaling-stroke" ><tspan font-size="7.700">60</tspan></text><text transform="translate(32.18,55.85) scale(1.0000,1) translate(-0.154,0)" fill="#231f20" stroke="#231f20" stroke-width="0.100" vector-effect="non-scaling-stroke" ><tspan font-size="7.700">40</tspan></text><text transform="translate(32.41,80.05) scale(1.0000,1) translate(-0.385,0)" fill="#231f20" stroke="#231f20" stroke-width="0.100" vector-effect="non-scaling-stroke" ><tspan font-size="7.700">20</tspan></text><text transform="translate(36.57,103.95) scale(1.0000,1) translate(-0.270,0)" fill="#231f20" stroke="#231f20" stroke-width="0.100" vector-effect="non-scaling-stroke" ><tspan font-size="7.700">0</tspan></text><text transform="translate(50.80,35.30) scale(1.0000,1) translate(-0.243,0)" fill="#231f20" stroke="#231f20" stroke-width="0.200" vector-effect="non-scaling-stroke" ><tspan font-size="8.100" font-style="italic">P</tspan></text><text transform="translate(65.50,35.30) scale(1.0000,1) translate(-0.729,0)" fill="#231f20" stroke="#231f20" stroke-width="0.200" vector-effect="non-scaling-stroke" ><tspan font-size="8.100">.02</tspan></text><text transform="translate(88.10,35.30) scale(1.0000,1) translate(-0.243,0)" fill="#231f20" stroke="#231f20" stroke-width="0.200" vector-effect="non-scaling-stroke" ><tspan font-size="8.100" font-style="italic">P</tspan></text><text transform="translate(102.80,35.30) scale(1.0000,1) translate(-0.526,0)" fill="#231f20" stroke="#231f20" stroke-width="0.200" vector-effect="non-scaling-stroke" ><tspan font-size="8.100">ns</tspan></text><text transform="translate(50.58,113.00) scale(0.8800,1) translate(-0.391,0)" fill="#231f20" stroke="#231f20" stroke-width="0.154" vector-effect="non-scaling-stroke" ><tspan font-size="8.700">OR</tspan></text><text transform="translate(66.15,113.00) scale(0.8800,1) translate(-0.696,0)" fill="#231f20" stroke="#231f20" stroke-width="0.154" vector-effect="non-scaling-stroke" ><tspan font-size="8.700">NR</tspan></text><text transform="translate(86.08,113.00) scale(0.8800,1) translate(-0.391,0)" fill="#231f20" stroke="#231f20" stroke-width="0.154" vector-effect="non-scaling-stroke" ><tspan font-size="8.700">OR</tspan></text><text transform="translate(101.45,113.00) scale(0.8800,1) translate(-0.696,0)" fill="#231f20" stroke="#231f20" stroke-width="0.154" vector-effect="non-scaling-stroke" ><tspan font-size="8.700">NR</tspan></text><text transform="translate(57.70,127.00) scale(0.6178,1) translate(-0.500,0)" fill="#231f20" stroke="#231f20" stroke-width="0.550" vector-effect="non-scaling-stroke" ><tspan font-size="10.000">CD8</tspan></text><text transform="translate(93.00,127.00) scale(0.6442,1) translate(-0.500,0)" fill="#231f20" stroke="#231f20" stroke-width="0.550" vector-effect="non-scaling-stroke" ><tspan font-size="10.000">CD4</tspan></text><text transform="translate(14.80,101.90) rotate(-90) scale(0.7067,1) translate(-0.326,0)" fill="#231f20" stroke="#231f20" stroke-width="0.330" vector-effect="non-scaling-stroke" ><tspan font-size="9.300">% T</tspan><tspan font-size="7.254" dy="0.930">N/SCM</tspan><tspan font-size="9.300" dy="-0.930"> in the indicated</tspan></text><text transform="translate(25.30,79.80) rotate(-90) scale(0.7168,1) translate(-0.540,0)" fill="#231f20" stroke="#231f20" stroke-width="0.330" vector-effect="non-scaling-stroke" ><tspan font-size="9.000">population</tspan></text><text transform="translate(169.23,31.55) scale(1.0000,1) translate(-0.308,0)" fill="#231f20" stroke="#231f20" stroke-width="0.100" vector-effect="non-scaling-stroke" ><tspan font-size="7.700">50</tspan></text><text transform="translate(169.08,46.15) scale(1.0000,1) translate(-0.154,0)" fill="#231f20" stroke="#231f20" stroke-width="0.100" vector-effect="non-scaling-stroke" ><tspan font-size="7.700">40</tspan></text><text transform="translate(169.19,60.75) scale(1.0000,1) translate(-0.270,0)" fill="#231f20" stroke="#231f20" stroke-width="0.100" vector-effect="non-scaling-stroke" ><tspan font-size="7.700">30</tspan></text><text transform="translate(169.31,75.35) scale(1.0000,1) translate(-0.385,0)" fill="#231f20" stroke="#231f20" stroke-width="0.100" vector-effect="non-scaling-stroke" ><tspan font-size="7.700">20</tspan></text><text transform="translate(169.50,89.75) scale(1.0000,1) translate(-0.578,0)" fill="#231f20" stroke="#231f20" stroke-width="0.100" vector-effect="non-scaling-stroke" ><tspan font-size="7.700">10</tspan></text><text transform="translate(173.47,104.15) scale(1.0000,1) translate(-0.270,0)" fill="#231f20" stroke="#231f20" stroke-width="0.100" vector-effect="non-scaling-stroke" ><tspan font-size="7.700">0</tspan></text><text transform="translate(188.20,29.00) scale(1.0000,1) translate(-0.243,0)" fill="#231f20" stroke="#231f20" stroke-width="0.200" vector-effect="non-scaling-stroke" ><tspan font-size="8.100" font-style="italic">P</tspan></text><text transform="translate(202.90,29.00) scale(1.0000,1) translate(-0.729,0)" fill="#231f20" stroke="#231f20" stroke-width="0.200" vector-effect="non-scaling-stroke" ><tspan font-size="8.100">.02</tspan></text><text transform="translate(225.30,29.00) scale(1.0000,1) translate(-0.243,0)" fill="#231f20" stroke="#231f20" stroke-width="0.200" vector-effect="non-scaling-stroke" ><tspan font-size="8.100" font-style="italic">P</tspan></text><text transform="translate(240.00,29.00) scale(1.0000,1) translate(-0.526,0)" fill="#231f20" stroke="#231f20" stroke-width="0.200" vector-effect="non-scaling-stroke" ><tspan font-size="8.100">ns</tspan></text><text transform="translate(187.93,113.00) scale(0.8800,1) translate(-0.435,0)" fill="#231f20" stroke="#231f20" stroke-width="0.154" vector-effect="non-scaling-stroke" ><tspan font-size="8.700">CR</tspan></text><text transform="translate(203.35,113.00) scale(0.8800,1) translate(-0.696,0)" fill="#231f20" stroke="#231f20" stroke-width="0.154" vector-effect="non-scaling-stroke" ><tspan font-size="8.700">NR</tspan></text><text transform="translate(223.53,113.00) scale(0.8800,1) translate(-0.435,0)" fill="#231f20" stroke="#231f20" stroke-width="0.154" vector-effect="non-scaling-stroke" ><tspan font-size="8.700">CR</tspan></text><text transform="translate(238.85,113.00) scale(0.8800,1) translate(-0.696,0)" fill="#231f20" stroke="#231f20" stroke-width="0.154" vector-effect="non-scaling-stroke" ><tspan font-size="8.700">NR</tspan></text><text transform="translate(195.10,127.00) scale(0.6178,1) translate(-0.500,0)" fill="#231f20" stroke="#231f20" stroke-width="0.550" vector-effect="non-scaling-stroke" ><tspan font-size="10.000">CD8</tspan></text><text transform="translate(230.35,127.00) scale(0.6078,1) translate(-0.500,0)" fill="#231f20" stroke="#231f20" stroke-width="0.550" vector-effect="non-scaling-stroke" ><tspan font-size="10.000">CD4</tspan></text><text transform="translate(151.50,101.50) rotate(-90) scale(0.7067,1) translate(-0.326,0)" fill="#231f20" stroke="#231f20" stroke-width="0.330" vector-effect="non-scaling-stroke" ><tspan font-size="9.300">% T</tspan><tspan font-size="7.254" dy="0.930">N/SCM</tspan><tspan font-size="9.300" dy="-0.930"> in the indicated</tspan></text><text transform="translate(161.90,79.80) rotate(-90) scale(0.7168,1) translate(-0.540,0)" fill="#231f20" stroke="#231f20" stroke-width="0.330" vector-effect="non-scaling-stroke" ><tspan font-size="9.000">population</tspan></text><text transform="translate(307.70,31.85) scale(1.0000,1) translate(-0.578,0)" fill="#231f20" stroke="#231f20" stroke-width="0.100" vector-effect="non-scaling-stroke" ><tspan font-size="7.700">10</tspan></text><text transform="translate(312.05,49.85) scale(1.0000,1) translate(-0.578,0)" fill="#231f20" stroke="#231f20" stroke-width="0.100" vector-effect="non-scaling-stroke" ><tspan font-size="7.700">1</tspan></text><text transform="translate(305.31,67.95) scale(1.0000,1) translate(-0.270,0)" fill="#231f20" stroke="#231f20" stroke-width="0.100" vector-effect="non-scaling-stroke" ><tspan font-size="7.700">0.1</tspan></text><text transform="translate(301.04,86.05) scale(1.0000,1) translate(-0.270,0)" fill="#231f20" stroke="#231f20" stroke-width="0.100" vector-effect="non-scaling-stroke" ><tspan font-size="7.700">0.01</tspan></text><text transform="translate(296.77,104.15) scale(1.0000,1) translate(-0.270,0)" fill="#231f20" stroke="#231f20" stroke-width="0.100" vector-effect="non-scaling-stroke" ><tspan font-size="7.700">0.001</tspan></text><text transform="translate(334.00,32.00) scale(1.0000,1) translate(-0.243,0)" fill="#231f20" stroke="#231f20" stroke-width="0.200" vector-effect="non-scaling-stroke" ><tspan font-size="8.100" font-style="italic">P</tspan></text><text transform="translate(348.70,32.00) scale(1.0000,1) translate(-0.729,0)" fill="#231f20" stroke="#231f20" stroke-width="0.200" vector-effect="non-scaling-stroke" ><tspan font-size="8.100">.05</tspan></text><text transform="translate(330.73,113.00) scale(0.8800,1) translate(-0.435,0)" fill="#231f20" stroke="#231f20" stroke-width="0.154" vector-effect="non-scaling-stroke" ><tspan font-size="8.700">CR</tspan></text><text transform="translate(352.35,113.00) scale(0.8800,1) translate(-0.696,0)" fill="#231f20" stroke="#231f20" stroke-width="0.154" vector-effect="non-scaling-stroke" ><tspan font-size="8.700">NR</tspan></text><text transform="translate(287.50,92.30) rotate(-90) scale(0.7580,1) translate(-0.166,0)" fill="#231f20" stroke="#231f20" stroke-width="0.330" vector-effect="non-scaling-stroke" ><tspan font-size="8.300">T</tspan><tspan font-size="5.478" dy="1.245">N/SCM</tspan><tspan font-size="8.300" dy="-1.245"> CD4:CD8 ratio</tspan></text><text transform="translate(423.23,31.55) scale(1.0000,1) translate(-0.578,0)" fill="#231f20" stroke="#231f20" stroke-width="0.100" vector-effect="non-scaling-stroke" ><tspan font-size="7.700">100</tspan></text><text transform="translate(427.23,46.05) scale(1.0000,1) translate(-0.308,0)" fill="#231f20" stroke="#231f20" stroke-width="0.100" vector-effect="non-scaling-stroke" ><tspan font-size="7.700">80</tspan></text><text transform="translate(427.31,60.55) scale(1.0000,1) translate(-0.385,0)" fill="#231f20" stroke="#231f20" stroke-width="0.100" vector-effect="non-scaling-stroke" ><tspan font-size="7.700">60</tspan></text><text transform="translate(427.08,75.05) scale(1.0000,1) translate(-0.154,0)" fill="#231f20" stroke="#231f20" stroke-width="0.100" vector-effect="non-scaling-stroke" ><tspan font-size="7.700">40</tspan></text><text transform="translate(427.31,89.55) scale(1.0000,1) translate(-0.385,0)" fill="#231f20" stroke="#231f20" stroke-width="0.100" vector-effect="non-scaling-stroke" ><tspan font-size="7.700">20</tspan></text><text transform="translate(431.47,104.05) scale(1.0000,1) translate(-0.270,0)" fill="#231f20" stroke="#231f20" stroke-width="0.100" vector-effect="non-scaling-stroke" ><tspan font-size="7.700">0</tspan></text><text transform="translate(446.70,28.60) scale(1.0000,1) translate(-0.243,0)" fill="#231f20" stroke="#231f20" stroke-width="0.200" vector-effect="non-scaling-stroke" ><tspan font-size="8.100" font-style="italic">P</tspan></text><text transform="translate(461.40,28.60) scale(1.0000,1) translate(-0.729,0)" fill="#231f20" stroke="#231f20" stroke-width="0.200" vector-effect="non-scaling-stroke" ><tspan font-size="8.100">.05</tspan></text><text transform="translate(482.00,28.60) scale(1.0000,1) translate(-0.243,0)" fill="#231f20" stroke="#231f20" stroke-width="0.200" vector-effect="non-scaling-stroke" ><tspan font-size="8.100" font-style="italic">P</tspan></text><text transform="translate(496.70,28.60) scale(1.0000,1) translate(-0.729,0)" fill="#231f20" stroke="#231f20" stroke-width="0.200" vector-effect="non-scaling-stroke" ><tspan font-size="8.100">.03</tspan></text><text transform="translate(446.23,113.00) scale(0.8800,1) translate(-0.435,0)" fill="#231f20" stroke="#231f20" stroke-width="0.154" vector-effect="non-scaling-stroke" ><tspan font-size="8.700">CR</tspan></text><text transform="translate(461.45,113.00) scale(0.8800,1) translate(-0.696,0)" fill="#231f20" stroke="#231f20" stroke-width="0.154" vector-effect="non-scaling-stroke" ><tspan font-size="8.700">NR</tspan></text><text transform="translate(481.73,113.00) scale(0.8800,1) translate(-0.435,0)" fill="#231f20" stroke="#231f20" stroke-width="0.154" vector-effect="non-scaling-stroke" ><tspan font-size="8.700">CR</tspan></text><text transform="translate(497.05,113.00) scale(0.8800,1) translate(-0.696,0)" fill="#231f20" stroke="#231f20" stroke-width="0.154" vector-effect="non-scaling-stroke" ><tspan font-size="8.700">NR</tspan></text><text transform="translate(453.20,127.00) scale(0.6178,1) translate(-0.500,0)" fill="#231f20" stroke="#231f20" stroke-width="0.550" vector-effect="non-scaling-stroke" ><tspan font-size="10.000">CD8</tspan></text><text transform="translate(488.85,127.00) scale(0.5974,1) translate(-0.500,0)" fill="#231f20" stroke="#231f20" stroke-width="0.550" vector-effect="non-scaling-stroke" ><tspan font-size="10.000">CD4</tspan></text><text transform="translate(405.70,95.90) rotate(-90) scale(0.7563,1) translate(-0.315,0)" fill="#231f20" stroke="#231f20" stroke-width="0.330" vector-effect="non-scaling-stroke" ><tspan font-size="9.000">% Proliferating cells in</tspan></text><text transform="translate(417.00,96.80) rotate(-90) scale(0.7118,1) translate(-0.135,0)" fill="#231f20" stroke="#231f20" stroke-width="0.330" vector-effect="non-scaling-stroke" ><tspan font-size="9.000">the indicated population</tspan></text><text transform="translate(25.30,172.80) scale(1.0000,1) translate(-0.607,0)" fill="#231f20" stroke="#231f20" stroke-width="0.100" vector-effect="non-scaling-stroke" ><tspan font-size="8.100">100</tspan></text><text transform="translate(29.52,212.05) scale(1.0000,1) translate(-0.324,0)" fill="#231f20" stroke="#231f20" stroke-width="0.100" vector-effect="non-scaling-stroke" ><tspan font-size="8.100">50</tspan></text><text transform="translate(33.97,251.30) scale(1.0000,1) translate(-0.284,0)" fill="#231f20" stroke="#231f20" stroke-width="0.100" vector-effect="non-scaling-stroke" ><tspan font-size="8.100">0</tspan></text><text transform="translate(41.79,260.10) scale(1.0000,1) translate(-0.291,0)" fill="#231f20" stroke="#231f20" stroke-width="0.100" vector-effect="non-scaling-stroke" ><tspan font-size="8.300">0</tspan></text><text transform="translate(68.55,260.10) scale(1.0000,1) translate(-0.373,0)" fill="#231f20" stroke="#231f20" stroke-width="0.100" vector-effect="non-scaling-stroke" ><tspan font-size="8.300">90</tspan></text><text transform="translate(95.40,260.10) scale(1.0000,1) translate(-0.623,0)" fill="#231f20" stroke="#231f20" stroke-width="0.100" vector-effect="non-scaling-stroke" ><tspan font-size="8.300">180</tspan></text><text transform="translate(124.32,260.10) scale(1.0000,1) translate(-0.415,0)" fill="#231f20" stroke="#231f20" stroke-width="0.100" vector-effect="non-scaling-stroke" ><tspan font-size="8.300">270</tspan></text><text transform="translate(153.28,260.10) scale(1.0000,1) translate(-0.291,0)" fill="#231f20" stroke="#231f20" stroke-width="0.100" vector-effect="non-scaling-stroke" ><tspan font-size="8.300">360</tspan></text><text transform="translate(73.90,159.80) scale(1.0825,1) translate(-0.308,0)" fill="#231f20" stroke="#231f20" stroke-width="0.063" vector-effect="non-scaling-stroke" ><tspan font-size="8.800">% CD8 T</tspan><tspan font-size="7.040" dy="1.936">N/SCM</tspan></text><text transform="translate(144.80,199.90) scale(1.0306,1) translate(-0.608,0)" fill="#231f20" stroke="#231f20" stroke-width="0.200" vector-effect="non-scaling-stroke" ><tspan font-size="7.600">High</tspan></text><text transform="translate(117.40,228.30) scale(0.9908,1) translate(-0.624,0)" fill="#231f20" stroke="#231f20" stroke-width="0.200" vector-effect="non-scaling-stroke" ><tspan font-size="7.800">Low/medium</tspan></text><text transform="translate(88.20,219.90) scale(1.0000,1) translate(-0.243,0)" fill="#231f20" stroke="#231f20" stroke-width="0.200" vector-effect="non-scaling-stroke" ><tspan font-size="8.100" font-style="italic">P</tspan></text><text transform="translate(102.90,219.90) scale(1.0000,1) translate(-0.729,0)" fill="#231f20" stroke="#231f20" stroke-width="0.200" vector-effect="non-scaling-stroke" ><tspan font-size="8.100">.04</tspan></text><text transform="translate(19.00,230.30) rotate(-90) scale(0.7645,1) translate(-0.656,0)" fill="#231f20" stroke="#231f20" stroke-width="0.300" vector-effect="non-scaling-stroke" ><tspan font-size="8.200">PFS probability</tspan></text><text transform="translate(63.90,273.00) scale(0.7039,1) translate(-0.186,0)" fill="#231f20" stroke="#231f20" stroke-width="0.330" vector-effect="non-scaling-stroke" ><tspan font-size="9.300">Time after treatment (days)</tspan></text><text transform="translate(198.40,172.80) scale(1.0000,1) translate(-0.607,0)" fill="#231f20" stroke="#231f20" stroke-width="0.100" vector-effect="non-scaling-stroke" ><tspan font-size="8.100">100</tspan></text><text transform="translate(202.62,212.00) scale(1.0000,1) translate(-0.324,0)" fill="#231f20" stroke="#231f20" stroke-width="0.100" vector-effect="non-scaling-stroke" ><tspan font-size="8.100">50</tspan></text><text transform="translate(207.07,251.20) scale(1.0000,1) translate(-0.284,0)" fill="#231f20" stroke="#231f20" stroke-width="0.100" vector-effect="non-scaling-stroke" ><tspan font-size="8.100">0</tspan></text><text transform="translate(214.89,260.00) scale(1.0000,1) translate(-0.291,0)" fill="#231f20" stroke="#231f20" stroke-width="0.100" vector-effect="non-scaling-stroke" ><tspan font-size="8.300">0</tspan></text><text transform="translate(241.73,260.00) scale(1.0000,1) translate(-0.373,0)" fill="#231f20" stroke="#231f20" stroke-width="0.100" vector-effect="non-scaling-stroke" ><tspan font-size="8.300">90</tspan></text><text transform="translate(268.65,260.00) scale(1.0000,1) translate(-0.623,0)" fill="#231f20" stroke="#231f20" stroke-width="0.100" vector-effect="non-scaling-stroke" ><tspan font-size="8.300">180</tspan></text><text transform="translate(297.64,260.00) scale(1.0000,1) translate(-0.415,0)" fill="#231f20" stroke="#231f20" stroke-width="0.100" vector-effect="non-scaling-stroke" ><tspan font-size="8.300">270</tspan></text><text transform="translate(326.68,260.00) scale(1.0000,1) translate(-0.291,0)" fill="#231f20" stroke="#231f20" stroke-width="0.100" vector-effect="non-scaling-stroke" ><tspan font-size="8.300">360</tspan></text><text transform="translate(246.90,159.80) scale(1.0738,1) translate(-0.308,0)" fill="#231f20" stroke="#231f20" stroke-width="0.067" vector-effect="non-scaling-stroke" ><tspan font-size="8.800">% CD4 T</tspan><tspan font-size="7.040" dy="1.936">N/SCM</tspan></text><text transform="translate(318.80,205.80) scale(0.9937,1) translate(-0.656,0)" fill="#231f20" stroke="#231f20" stroke-width="0.200" vector-effect="non-scaling-stroke" ><tspan font-size="8.200">Low</tspan></text><text transform="translate(290.50,231.00) scale(0.9779,1) translate(-0.624,0)" fill="#231f20" stroke="#231f20" stroke-width="0.200" vector-effect="non-scaling-stroke" ><tspan font-size="7.800">Medium/high</tspan></text><text transform="translate(262.70,219.90) scale(1.0000,1) translate(-0.243,0)" fill="#231f20" stroke="#231f20" stroke-width="0.200" vector-effect="non-scaling-stroke" ><tspan font-size="8.100" font-style="italic">P</tspan></text><text transform="translate(277.40,219.90) scale(1.0000,1) translate(-0.526,0)" fill="#231f20" stroke="#231f20" stroke-width="0.200" vector-effect="non-scaling-stroke" ><tspan font-size="8.100">ns</tspan></text><text transform="translate(192.10,230.30) rotate(-90) scale(0.7645,1) translate(-0.656,0)" fill="#231f20" stroke="#231f20" stroke-width="0.300" vector-effect="non-scaling-stroke" ><tspan font-size="8.200">PFS probability</tspan></text><text transform="translate(236.80,273.00) scale(0.7084,1) translate(-0.186,0)" fill="#231f20" stroke="#231f20" stroke-width="0.330" vector-effect="non-scaling-stroke" ><tspan font-size="9.300">Time after treatment (days)</tspan></text><text transform="translate(371.50,172.80) scale(1.0000,1) translate(-0.607,0)" fill="#231f20" stroke="#231f20" stroke-width="0.100" vector-effect="non-scaling-stroke" ><tspan font-size="8.100">100</tspan></text><text transform="translate(375.72,212.00) scale(1.0000,1) translate(-0.324,0)" fill="#231f20" stroke="#231f20" stroke-width="0.100" vector-effect="non-scaling-stroke" ><tspan font-size="8.100">50</tspan></text><text transform="translate(380.17,251.20) scale(1.0000,1) translate(-0.284,0)" fill="#231f20" stroke="#231f20" stroke-width="0.100" vector-effect="non-scaling-stroke" ><tspan font-size="8.100">0</tspan></text><text transform="translate(387.99,260.00) scale(1.0000,1) translate(-0.291,0)" fill="#231f20" stroke="#231f20" stroke-width="0.100" vector-effect="non-scaling-stroke" ><tspan font-size="8.300">0</tspan></text><text transform="translate(414.68,260.00) scale(1.0000,1) translate(-0.373,0)" fill="#231f20" stroke="#231f20" stroke-width="0.100" vector-effect="non-scaling-stroke" ><tspan font-size="8.300">90</tspan></text><text transform="translate(441.45,260.00) scale(1.0000,1) translate(-0.623,0)" fill="#231f20" stroke="#231f20" stroke-width="0.100" vector-effect="non-scaling-stroke" ><tspan font-size="8.300">180</tspan></text><text transform="translate(470.29,260.00) scale(1.0000,1) translate(-0.415,0)" fill="#231f20" stroke="#231f20" stroke-width="0.100" vector-effect="non-scaling-stroke" ><tspan font-size="8.300">270</tspan></text><text transform="translate(499.18,260.00) scale(1.0000,1) translate(-0.291,0)" fill="#231f20" stroke="#231f20" stroke-width="0.100" vector-effect="non-scaling-stroke" ><tspan font-size="8.300">360</tspan></text><text transform="translate(405.40,160.30) scale(1.0413,1) translate(-0.176,0)" fill="#231f20" stroke="#231f20" stroke-width="0.081" vector-effect="non-scaling-stroke" ><tspan font-size="8.800">T</tspan><tspan font-size="7.040" dy="1.936">N/SCM</tspan><tspan font-size="8.800" dy="-1.936"> CD4:CD8 ratio</tspan></text><text transform="translate(492.80,195.80) scale(1.0076,1) translate(-0.656,0)" fill="#231f20" stroke="#231f20" stroke-width="0.200" vector-effect="non-scaling-stroke" ><tspan font-size="8.200">Low</tspan></text><text transform="translate(464.90,233.90) scale(0.9733,1) translate(-0.624,0)" fill="#231f20" stroke="#231f20" stroke-width="0.200" vector-effect="non-scaling-stroke" ><tspan font-size="7.800">Medium/high</tspan></text><text transform="translate(438.80,219.70) scale(1.0000,1) translate(-0.243,0)" fill="#231f20" stroke="#231f20" stroke-width="0.200" vector-effect="non-scaling-stroke" ><tspan font-size="8.100" font-style="italic">P</tspan></text><text transform="translate(453.50,219.70) scale(1.0000,1) translate(-0.729,0)" fill="#231f20" stroke="#231f20" stroke-width="0.200" vector-effect="non-scaling-stroke" ><tspan font-size="8.100">.06</tspan></text><text transform="translate(365.20,230.30) rotate(-90) scale(0.7645,1) translate(-0.656,0)" fill="#231f20" stroke="#231f20" stroke-width="0.300" vector-effect="non-scaling-stroke" ><tspan font-size="8.200">PFS probability</tspan></text><text transform="translate(409.20,273.00) scale(0.7066,1) translate(-0.186,0)" fill="#231f20" stroke="#231f20" stroke-width="0.330" vector-effect="non-scaling-stroke" ><tspan font-size="9.300">Time after treatment (days)</tspan></text><text transform="translate(85.10,318.60) scale(1.0000,1) translate(-0.607,0)" fill="#231f20" stroke="#231f20" stroke-width="0.100" vector-effect="non-scaling-stroke" ><tspan font-size="8.100">100</tspan></text><text transform="translate(89.32,357.90) scale(1.0000,1) translate(-0.324,0)" fill="#231f20" stroke="#231f20" stroke-width="0.100" vector-effect="non-scaling-stroke" ><tspan font-size="8.100">50</tspan></text><text transform="translate(93.77,397.20) scale(1.0000,1) translate(-0.284,0)" fill="#231f20" stroke="#231f20" stroke-width="0.100" vector-effect="non-scaling-stroke" ><tspan font-size="8.100">0</tspan></text><text transform="translate(101.59,406.00) scale(1.0000,1) translate(-0.291,0)" fill="#231f20" stroke="#231f20" stroke-width="0.100" vector-effect="non-scaling-stroke" ><tspan font-size="8.300">0</tspan></text><text transform="translate(128.38,406.00) scale(1.0000,1) translate(-0.373,0)" fill="#231f20" stroke="#231f20" stroke-width="0.100" vector-effect="non-scaling-stroke" ><tspan font-size="8.300">90</tspan></text><text transform="translate(155.25,406.00) scale(1.0000,1) translate(-0.623,0)" fill="#231f20" stroke="#231f20" stroke-width="0.100" vector-effect="non-scaling-stroke" ><tspan font-size="8.300">180</tspan></text><text transform="translate(184.19,406.00) scale(1.0000,1) translate(-0.415,0)" fill="#231f20" stroke="#231f20" stroke-width="0.100" vector-effect="non-scaling-stroke" ><tspan font-size="8.300">270</tspan></text><text transform="translate(213.18,406.00) scale(1.0000,1) translate(-0.291,0)" fill="#231f20" stroke="#231f20" stroke-width="0.100" vector-effect="non-scaling-stroke" ><tspan font-size="8.300">360</tspan></text><text transform="translate(110.50,305.40) scale(1.0202,1) translate(-0.312,0)" fill="#231f20" stroke="#231f20" stroke-width="0.091" vector-effect="non-scaling-stroke" ><tspan font-size="8.900">% Proliferating CD8 T cells</tspan></text><text transform="translate(206.00,334.80) scale(1.0100,1) translate(-0.608,0)" fill="#231f20" stroke="#231f20" stroke-width="0.200" vector-effect="non-scaling-stroke" ><tspan font-size="7.600">High</tspan></text><text transform="translate(179.00,381.00) scale(0.9723,1) translate(-0.624,0)" fill="#231f20" stroke="#231f20" stroke-width="0.200" vector-effect="non-scaling-stroke" ><tspan font-size="7.800">Low/medium</tspan></text><text transform="translate(147.90,365.90) scale(1.0000,1) translate(-0.243,0)" fill="#231f20" stroke="#231f20" stroke-width="0.200" vector-effect="non-scaling-stroke" ><tspan font-size="8.100" font-style="italic">P</tspan></text><text transform="translate(162.60,365.90) scale(1.0000,1) translate(-0.729,0)" fill="#231f20" stroke="#231f20" stroke-width="0.200" vector-effect="non-scaling-stroke" ><tspan font-size="8.100">.03</tspan></text><text transform="translate(78.80,376.30) rotate(-90) scale(0.7645,1) translate(-0.656,0)" fill="#231f20" stroke="#231f20" stroke-width="0.300" vector-effect="non-scaling-stroke" ><tspan font-size="8.200">PFS probability</tspan></text><text transform="translate(123.30,419.00) scale(0.7012,1) translate(-0.186,0)" fill="#231f20" stroke="#231f20" stroke-width="0.330" vector-effect="non-scaling-stroke" ><tspan font-size="9.300">Time after treatment (days)</tspan></text><text transform="translate(310.90,318.60) scale(1.0000,1) translate(-0.607,0)" fill="#231f20" stroke="#231f20" stroke-width="0.100" vector-effect="non-scaling-stroke" ><tspan font-size="8.100">100</tspan></text><text transform="translate(315.12,357.90) scale(1.0000,1) translate(-0.324,0)" fill="#231f20" stroke="#231f20" stroke-width="0.100" vector-effect="non-scaling-stroke" ><tspan font-size="8.100">50</tspan></text><text transform="translate(319.57,397.20) scale(1.0000,1) translate(-0.284,0)" fill="#231f20" stroke="#231f20" stroke-width="0.100" vector-effect="non-scaling-stroke" ><tspan font-size="8.100">0</tspan></text><text transform="translate(327.39,406.00) scale(1.0000,1) translate(-0.291,0)" fill="#231f20" stroke="#231f20" stroke-width="0.100" vector-effect="non-scaling-stroke" ><tspan font-size="8.300">0</tspan></text><text transform="translate(354.20,406.00) scale(1.0000,1) translate(-0.373,0)" fill="#231f20" stroke="#231f20" stroke-width="0.100" vector-effect="non-scaling-stroke" ><tspan font-size="8.300">90</tspan></text><text transform="translate(381.10,406.00) scale(1.0000,1) translate(-0.623,0)" fill="#231f20" stroke="#231f20" stroke-width="0.100" vector-effect="non-scaling-stroke" ><tspan font-size="8.300">180</tspan></text><text transform="translate(410.07,406.00) scale(1.0000,1) translate(-0.415,0)" fill="#231f20" stroke="#231f20" stroke-width="0.100" vector-effect="non-scaling-stroke" ><tspan font-size="8.300">270</tspan></text><text transform="translate(439.08,406.00) scale(1.0000,1) translate(-0.291,0)" fill="#231f20" stroke="#231f20" stroke-width="0.100" vector-effect="non-scaling-stroke" ><tspan font-size="8.300">360</tspan></text><text transform="translate(336.50,305.40) scale(1.0230,1) translate(-0.312,0)" fill="#231f20" stroke="#231f20" stroke-width="0.090" vector-effect="non-scaling-stroke" ><tspan font-size="8.900">% Proliferating CD4 T cells</tspan></text><text transform="translate(433.60,331.80) scale(0.9659,1) translate(-0.656,0)" fill="#231f20" stroke="#231f20" stroke-width="0.200" vector-effect="non-scaling-stroke" ><tspan font-size="8.200">Low</tspan></text><text transform="translate(404.50,383.50) scale(0.9871,1) translate(-0.624,0)" fill="#231f20" stroke="#231f20" stroke-width="0.200" vector-effect="non-scaling-stroke" ><tspan font-size="7.800">Medium/high</tspan></text><text transform="translate(373.30,365.60) scale(1.0000,1) translate(-0.243,0)" fill="#231f20" stroke="#231f20" stroke-width="0.200" vector-effect="non-scaling-stroke" ><tspan font-size="8.100" font-style="italic">P</tspan></text><text transform="translate(388.00,365.60) scale(1.0000,1) translate(-0.729,0)" fill="#231f20" stroke="#231f20" stroke-width="0.200" vector-effect="non-scaling-stroke" ><tspan font-size="8.100">.01</tspan></text><text transform="translate(304.60,376.30) rotate(-90) scale(0.7645,1) translate(-0.656,0)" fill="#231f20" stroke="#231f20" stroke-width="0.300" vector-effect="non-scaling-stroke" ><tspan font-size="8.200">PFS probability</tspan></text><text transform="translate(348.80,419.00) scale(0.7102,1) translate(-0.186,0)" fill="#231f20" stroke="#231f20" stroke-width="0.330" vector-effect="non-scaling-stroke" ><tspan font-size="9.300">Time after treatment (days)</tspan></text></g>
</svg></body></html>
